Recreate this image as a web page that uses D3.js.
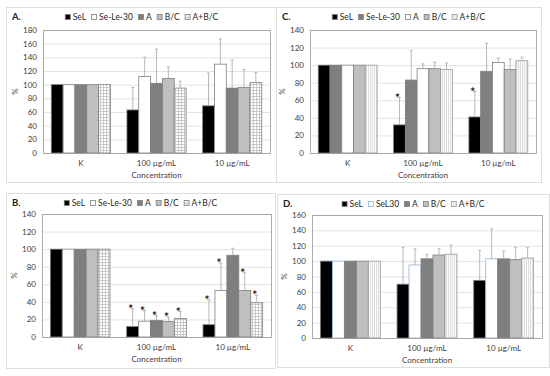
<!DOCTYPE html>
<html>
<head>
<meta charset="utf-8">
<script src="https://cdn.jsdelivr.net/npm/d3@7"></script>
<style>
  body { margin: 0; background: #fff; }
  svg text { font-family: Lato, "Liberation Sans", sans-serif; }
</style>
</head>
<body>
<div id="chart"></div>
<script>
// ---- data (series x [K, 100, 10]) ----
var categories = ["K", "100 µg/mL", "10 µg/mL"];
var seriesAB = ["SeL", "Se-Le-30", "A", "B/C", "A+B/C"];
var seriesD = ["SeL", "SeL30", "A", "B/C", "A+B/C"];

var aMeans  = [[100, 63, 69], [100, 112, 130], [100, 102, 95], [100, 109, 96], [100, 95, 103]];
var aErrors = [[0, 33, 48], [0, 28, 37], [0, 50, 41], [0, 17, 26], [0, 10, 15]];

var bMeans  = [[100, 12, 14], [100, 18, 53], [100, 19, 93], [100, 17.5, 53], [100, 21, 39]];
var bErrors = [[0, 20, 28], [0, 12, 31], [0, 5, 8], [0, 5, 20], [0, 8, 8.5]];
var bStars  = [[0, 1, 1], [0, 1, 1], [0, 1, 0], [0, 1, 1], [0, 1, 1]];

var cMeans  = [[100, 32, 41], [100, 83, 93], [100, 96, 103], [100, 96, 95], [100, 95, 105]];
var cErrors = [[0, 31, 29], [0, 34, 32], [0, 5.5, 5], [0, 7.5, 12], [0, 7.5, 4]];
var cStars  = [[0, 1, 1], [0, 0, 0], [0, 0, 0], [0, 0, 0], [0, 0, 0]];

var dMeans  = [[100, 70, 75], [100, 95, 103], [100, 103, 103], [100, 108, 102], [100, 109, 104]];
var dErrors = [[0, 48, 39], [0, 21, 39], [0, 6, 10], [0, 8, 16], [0, 12, 13.5]];

var svg = d3.select("#chart").append("svg")
  .attr("width", 550)
  .attr("height", 376);

// patterns
var defs = svg.append("defs");
var chk = defs.append("pattern").attr("id", "checker")
  .attr("width", 3).attr("height", 3).attr("patternUnits", "userSpaceOnUse");
chk.append("rect").attr("width", 3).attr("height", 3).attr("fill", "#fff");
chk.append("rect").attr("width", 1).attr("height", 3).attr("fill", "#c8c8c8");
chk.append("rect").attr("width", 3).attr("height", 1).attr("fill", "#c8c8c8");

var vs = defs.append("pattern").attr("id", "vstripe")
  .attr("width", 2).attr("height", 2).attr("patternUnits", "userSpaceOnUse");
vs.append("rect").attr("width", 2).attr("height", 2).attr("fill", "#fafafa");
vs.append("rect").attr("width", 1).attr("height", 2).attr("fill", "#dedede");

var panels = [
  { title: "A.", series: seriesAB, means: aMeans, errors: aErrors, stars: null, yMax: 180,
    frame: [6, 7, 271, 175], plot: [43, 30, 227, 123],
    fills: ["#000", "#fff", "#7f7f7f", "#bfbfbf", "url(#checker)"],
    strokes: ["#7f7f7f", "#7f7f7f", "#7f7f7f", "#7f7f7f", "#7f7f7f"] },
  { title: "C.", series: seriesAB, means: cMeans, errors: cErrors, stars: cStars, yMax: 140,
    frame: [276, 7, 265, 175], plot: [310, 30, 226, 123],
    fills: ["#000", "#7f7f7f", "#fff", "#bfbfbf", "url(#vstripe)"],
    strokes: ["#7f7f7f", "#7f7f7f", "#7f7f7f", "#7f7f7f", "#9a9a9a"] },
  { title: "B.", series: seriesAB, means: bMeans, errors: bErrors, stars: bStars, yMax: 140,
    frame: [6, 193, 269, 175], plot: [42, 214, 229, 123],
    fills: ["#000", "#fff", "#7f7f7f", "#bfbfbf", "url(#checker)"],
    strokes: ["#7f7f7f", "#7f7f7f", "#7f7f7f", "#7f7f7f", "#7f7f7f"] },
  { title: "D.", series: seriesD, means: dMeans, errors: dErrors, stars: null, yMax: 160,
    frame: [277, 194, 272, 173], plot: [312, 215, 230, 123],
    fills: ["#000", "#fff", "#7f7f7f", "#bfbfbf", "url(#vstripe)"],
    strokes: ["#7f7f7f", "#8db3e2", "#7f7f7f", "#7f7f7f", "#9a9a9a"] }
];

panels.forEach(drawPanel);

function drawPanel(p) {
  var f = p.frame, r = p.plot;

  // outer frame
  svg.append("rect")
    .attr("x", f[0] + 0.5).attr("y", f[1] + 0.5)
    .attr("width", f[2]).attr("height", f[3])
    .attr("fill", "#fff").attr("stroke", "#dedede");

  svg.append("text")
    .attr("x", f[0] + 6).attr("y", f[1] + 13)
    .attr("font-size", 9.5).attr("font-weight", "bold").attr("fill", "#222")
    .text(p.title);

  var g = svg.append("g").attr("transform", "translate(" + r[0] + "," + r[1] + ")");
  var w = r[2], h = r[3];

  var x0 = d3.scaleBand().domain(categories).range([0, w]);
  var x1 = d3.scaleBand().domain(p.series).range([0, x0.bandwidth()]).paddingOuter(0.7);
  var y = d3.scaleLinear().domain([0, p.yMax]).range([h, 0]);

  // grid + y ticks
  var yAxis = g.append("g")
    .call(d3.axisLeft(y).ticks(p.yMax / 20).tickSize(-w).tickPadding(6));
  yAxis.select(".domain").remove();
  yAxis.selectAll("line").attr("stroke", "#e3e3e3");
  yAxis.selectAll("text").attr("font-size", 8).attr("fill", "#404040");

  // bars
  p.series.forEach(function(s, si) {
    var grp = g.append("g");
    grp.selectAll("rect").data(categories).enter().append("rect")
      .attr("x", function(c) { return x0(c) + x1(s); })
      .attr("y", function(c, ci) { return y(p.means[si][ci]); })
      .attr("width", x1.bandwidth())
      .attr("height", function(c, ci) { return h - y(p.means[si][ci]); })
      .attr("fill", p.fills[si])
      .attr("stroke", p.strokes[si])
      .attr("stroke-width", 0.8);

    // error bars (upper only)
    categories.forEach(function(c, ci) {
      var e = p.errors[si][ci];
      if (!e) return;
      var cx = x0(c) + x1(s) + x1.bandwidth() / 2;
      var top = y(p.means[si][ci] + e);
      g.append("line")
        .attr("x1", cx).attr("x2", cx)
        .attr("y1", y(p.means[si][ci])).attr("y2", top)
        .attr("stroke", "#a6a6a6").attr("stroke-width", 0.8);
      g.append("line")
        .attr("x1", cx - 1.5).attr("x2", cx + 1.5)
        .attr("y1", top).attr("y2", top)
        .attr("stroke", "#a6a6a6").attr("stroke-width", 0.8);
      if (p.stars && p.stars[si][ci]) {
        g.append("text")
          .attr("x", cx - 2).attr("y", top + 5)
          .attr("text-anchor", "middle")
          .attr("font-size", 13).attr("fill", "#000")
          .text("*");
      }
    });
  });

  // plot border
  g.append("rect")
    .attr("x", 0.5).attr("y", 0.5).attr("width", w).attr("height", h)
    .attr("fill", "none").attr("stroke", "#9a9a9a").attr("stroke-width", 0.8);

  // x category labels
  var xAxis = g.append("g").attr("transform", "translate(0," + h + ")")
    .call(d3.axisBottom(x0).tickSize(0).tickPadding(7));
  xAxis.select(".domain").remove();
  xAxis.selectAll("text").attr("font-size", 8).attr("fill", "#404040");

  g.append("text")
    .attr("x", w / 2).attr("y", h + 25)
    .attr("text-anchor", "middle")
    .attr("font-size", 8).attr("fill", "#404040")
    .text("Concentration");

  g.append("text")
    .attr("transform", "translate(" + (-25) + "," + (h / 2) + ") rotate(-90)")
    .attr("text-anchor", "middle")
    .attr("font-size", 8).attr("fill", "#404040")
    .text("%");

  // legend, centred on the frame
  var leg = svg.append("g");
  var cursor = 0;
  p.series.forEach(function(s, si) {
    var item = leg.append("g").attr("transform", "translate(" + cursor + ",0)");
    item.append("rect")
      .attr("x", 0.5).attr("y", -5.5).attr("width", 5).attr("height", 5)
      .attr("fill", p.fills[si]).attr("stroke", p.strokes[si]).attr("stroke-width", 0.8);
    var t = item.append("text")
      .attr("x", 8).attr("y", 0)
      .attr("font-size", 8.5).attr("fill", "#262626")
      .text(s);
    cursor += 8 + t.node().getComputedTextLength() + 5;
  });
  cursor -= 5;
  leg.attr("transform", "translate(" + (f[0] + f[2] / 2 - cursor / 2) + "," + (f[1] + 13) + ")");
}
</script>
</body>
</html>
